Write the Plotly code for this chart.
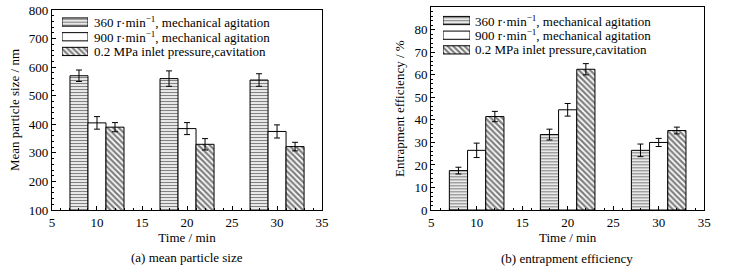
import plotly.graph_objects as go

time = [10, 20, 30]
offsets = [-2, 0, 2]
series_names = ["360 r·min<sup>−1</sup>, mechanical agitation",
                "900 r·min<sup>−1</sup>, mechanical agitation",
                "0.2 MPa inlet pressure,cavitation"]

size_360 = [570, 560, 555]
size_360_err = [20, 27, 22]
size_900 = [405, 385, 375]
size_900_err = [22, 21, 23]
size_cav = [390, 330, 322]
size_cav_err = [16, 20, 15]

eff_360 = [17.5, 33.5, 26.5]
eff_360_err = [1.5, 2.4, 2.8]
eff_900 = [26.5, 44.5, 30.0]
eff_900_err = [3.2, 2.8, 1.8]
eff_cav = [41.5, 62.5, 35.3]
eff_cav_err = [2.3, 2.5, 1.5]

FONT = "Liberation Serif"
patterns = [dict(shape="-", fgcolor="black", bgcolor="white", size=3, solidity=0.45),
            dict(shape="", fgcolor="black", bgcolor="white"),
            dict(shape="\\", fgcolor="black", bgcolor="white", size=4, solidity=0.55)]

fig = go.Figure()

def add_bars(vals_list, errs_list, xa, ya):
    for i, (vals, errs) in enumerate(zip(vals_list, errs_list)):
        fig.add_trace(go.Bar(
            x=[t + offsets[i] for t in time], y=vals, width=2,
            name=series_names[i], marker=dict(color="white", line=dict(color="black", width=1),
                                             pattern=patterns[i]),
            error_y=dict(type="data", array=errs, color="black", thickness=1, width=3),
            xaxis=xa, yaxis=ya, showlegend=False, hoverinfo="y"))

add_bars([size_360, size_900, size_cav], [size_360_err, size_900_err, size_cav_err], "x", "y")
add_bars([eff_360, eff_900, eff_cav], [eff_360_err, eff_900_err, eff_cav_err], "x2", "y2")

# legend key swatches: one row per series on small overlay axes, labels beside them
annotations = []
for xa, ya, text_x in [("x3", "y3", 92 / 732), ("x4", "y4", 473 / 732)]:
    for i in range(len(series_names)):
        fig.add_trace(go.Bar(
            y=[i], x=[1], base=0, orientation="h", width=0.56,
            marker=dict(color="white", line=dict(color="black", width=1), pattern=patterns[i]),
            xaxis=xa, yaxis=ya, showlegend=False, hoverinfo="skip"))
        annotations.append(dict(text=series_names[i], xref="paper", yref=ya, x=text_x, y=i,
                                xanchor="left", yanchor="middle", showarrow=False,
                                font=dict(family=FONT, size=13, color="black")))

axis_common = dict(showline=True, linecolor="black", linewidth=1, mirror=True,
                   ticks="inside", ticklen=4, tickcolor="black", showgrid=False, zeroline=False,
                   tickfont=dict(family=FONT, size=13, color="black"),
                   minor=dict(ticks="inside", ticklen=2, tickcolor="black"))
hidden = dict(showgrid=False, zeroline=False, showline=False, ticks="",
              showticklabels=False, fixedrange=True)

annotations += [
    dict(text="(a) mean particle size", xref="paper", yref="paper", x=0.255, y=1 - 257 / 271,
         xanchor="center", yanchor="middle", showarrow=False, font=dict(family=FONT, size=13)),
    dict(text="(b) entrapment efficiency", xref="paper", yref="paper", x=0.775, y=1 - 258 / 271,
         xanchor="center", yanchor="middle", showarrow=False, font=dict(family=FONT, size=13)),
]

fig.update_layout(
    width=732, height=271, margin=dict(l=0, r=0, t=0, b=0, autoexpand=False),
    plot_bgcolor="rgba(0,0,0,0)", paper_bgcolor="white", barmode="overlay",
    font=dict(family=FONT, color="black"), showlegend=False,
    xaxis=dict(domain=[0.071, 0.440], range=[5, 35], dtick=5, anchor="y",
               title=dict(text="Time / min", font=dict(size=13), standoff=4), **axis_common),
    yaxis=dict(domain=[0.225, 0.963], range=[100, 800], dtick=100, anchor="x",
               title=dict(text="Mean particle size / nm", font=dict(size=13), standoff=6), **axis_common),
    xaxis2=dict(domain=[0.589, 0.962], range=[5, 35], dtick=5, anchor="y2",
                title=dict(text="Time / min", font=dict(size=13), standoff=4), **axis_common),
    yaxis2=dict(domain=[0.225, 0.973], range=[0, 90], dtick=10, anchor="x2",
                title=dict(text="Entrapment efficiency / %", font=dict(size=13), standoff=6), **axis_common),
    xaxis3=dict(domain=[62 / 732, 88 / 732], range=[0, 1], anchor="y3", **hidden),
    yaxis3=dict(domain=[1 - 58.8 / 271, 1 - 14.7 / 271], range=[2.5, -0.5], anchor="x3", **hidden),
    xaxis4=dict(domain=[443 / 732, 470 / 732], range=[0, 1], anchor="y4", **hidden),
    yaxis4=dict(domain=[1 - 57.2 / 271, 1 - 13.2 / 271], range=[2.5, -0.5], anchor="x4", **hidden),
    annotations=annotations,
)

fig.write_html("out.html", post_script="document.body.style.margin='0';",
               config={"displayModeBar": False})
